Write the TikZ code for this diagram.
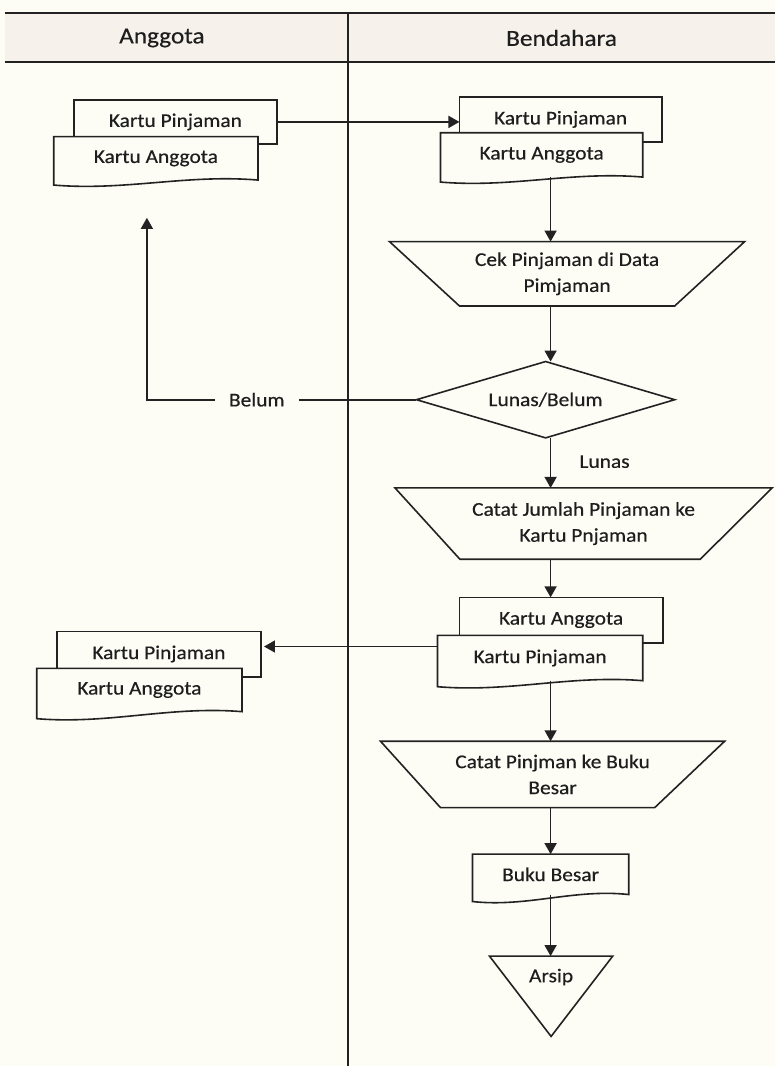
\documentclass[tikz,border=0pt]{standalone}
\usepackage{fontspec}
\setmainfont{Carlito}[FakeStretch=1.1,FakeBold=0.4]
\usetikzlibrary{arrows.meta,calc}
\definecolor{bg}{HTML}{FDFDF6}
\definecolor{hdr}{HTML}{F6F2EB}
\definecolor{ln}{HTML}{222222}
\definecolor{tx}{HTML}{1E1E1E}
\pgfdeclarelayer{bottom}
\pgfdeclarelayer{shapes}
\pgfsetlayers{bottom,shapes,main}
\begin{document}
\begin{tikzpicture}[x=1pt,y=-1pt,
  shp/.style={draw=ln, line width=1.6pt, fill=bg, line join=miter},
  box/.style={rectangle, draw=none, inner sep=0pt, text=tx,
    font=\fontsize{19.5}{26}\selectfont, align=center},
  arr/.style={draw=ln, line width=1.6pt, -{Triangle[length=11pt,width=12pt]}},
  conn/.style={draw=ln, line width=1.6pt},
  hdrtxt/.style={text=tx, font=\fontsize{23}{28}\selectfont, inner sep=0pt}]

% ---------- nodes ----------
\node[hdrtxt] (hA) at (162,38) {Anggota};
\node[hdrtxt] (hB) at (562,38) {Bendahara};

\node[box, minimum width=203, minimum height=44] (A1) at (175.5,122) {Kartu Pinjaman};
\node[box, minimum width=204, minimum height=43] (A2) at (156,158.5) {Kartu Anggota};

\node[box, minimum width=202, minimum height=45] (B1) at (561,119.5) {Kartu Pinjaman};
\node[box, minimum width=202, minimum height=44] (B2) at (542,155) {Kartu Anggota};

\node[box, minimum width=355, minimum height=64] (T1) at (567.5,274) {Cek Pinjaman di Data\\Pimjaman};
\node[box, minimum width=258, minimum height=76] (D) at (546,400) {Lunas/Belum};
\node[box, inner xsep=14pt] (belum) at (257,400) {Belum};
\node[box] (lunas) at (605,462) {Lunas};

\node[box, minimum width=377, minimum height=71] (T2) at (584,524) {Catat Jumlah Pinjaman ke\\Kartu Pnjaman};

\node[box, minimum width=203, minimum height=45] (C1) at (561.5,620.5) {Kartu Anggota};
\node[box, minimum width=205, minimum height=45] (C2) at (540.5,658.5) {Kartu Pinjaman};

\node[box, minimum width=204, minimum height=45] (D1) at (159,654.5) {Kartu Pinjaman};
\node[box, minimum width=205, minimum height=43] (D2) at (139.5,690.5) {Kartu Anggota};

\node[box, minimum width=344, minimum height=66] (T3) at (553,775) {Catat Pinjman ke Buku\\Besar};
\node[box, minimum width=156, minimum height=40] (BB) at (551,875) {Buku Besar};
\node[box, minimum width=123, minimum height=80] (R) at (551.5,997) {};
\node[box] (arsip) at ($(R.north)+(0,21)$) {Arsip};

\coordinate (col) at (551,0);
\coordinate (ret) at (147,218);

% ---------- background, lanes ----------
\begin{pgfonlayer}{bottom}
  \fill[bg] (0,0) rectangle (776,1067);
  \fill[hdr] (5,13) rectangle (776,62);
  \draw[conn] (5,13) -- (776,13);
  \draw[conn] (5,62) -- (776,62);
  \draw[conn] (348,13) -- (348,1067);
\end{pgfonlayer}

% ---------- shape outlines ----------
\newcommand\docpath[2]{%
  \draw[shp] (#1.north west) -- (#1.north east) -- (#1.south east)
    .. controls ($(#1.south east)!0.35!(#1.south west)+(0,-6)$)
           and ($(#1.south east)!0.65!(#1.south west)+(0,#2+6)$)
    .. ($(#1.south west)+(0,#2)$) -- cycle;}
\newcommand\rectpath[1]{%
  \draw[shp] (#1.north west) rectangle (#1.south east);}
\newcommand\trappath[3]{%
  \draw[shp] (#1.north west) -- (#1.north east) -- ($(#1.south east)+(-#3,0)$)
    -- ($(#1.south west)+(#2,0)$) -- cycle;}

\begin{pgfonlayer}{shapes}
  \rectpath{A1} \docpath{A2}{5}
  \rectpath{B1} \docpath{B2}{5}
  \trappath{T1}{70}{70}
  \draw[shp] (D.north) -- (D.east) -- (D.south) -- (D.west) -- cycle;
  \trappath{T2}{65}{72}
  \rectpath{C1} \docpath{C2}{6}
  \rectpath{D1} \docpath{D2}{7}
  \trappath{T3}{60}{70}
  \docpath{BB}{7}
  \draw[shp] (R.north west) -- (R.north east) -- (R.south) -- cycle;
\end{pgfonlayer}

% ---------- connectors ----------
\draw[arr] (A1.east) -- (A1.east -| B1.west);
\draw[arr] (B2.south -| col) -- (T1.north -| col);
\draw[arr] (T1.south -| col) -- (D.north -| col);
\draw[conn] (D.west) -- (belum.east);
\draw[arr] (belum.west) -- (belum.west -| ret) -- (ret);
\draw[arr] (D.south -| col) -- (T2.north -| col);
\draw[arr] (T2.south -| col) -- (C1.north -| col);
\draw[arr, shorten >=3pt] ([yshift=11.5pt]C2.west) -- ([yshift=11.5pt]C2.west -| D1.east);
\draw[arr] (C2.south -| col) -- (T3.north -| col);
\draw[arr] (T3.south -| col) -- (BB.north -| col);
\draw[arr] (BB.south -| col) -- (R.north -| col);
\end{tikzpicture}
\end{document}
